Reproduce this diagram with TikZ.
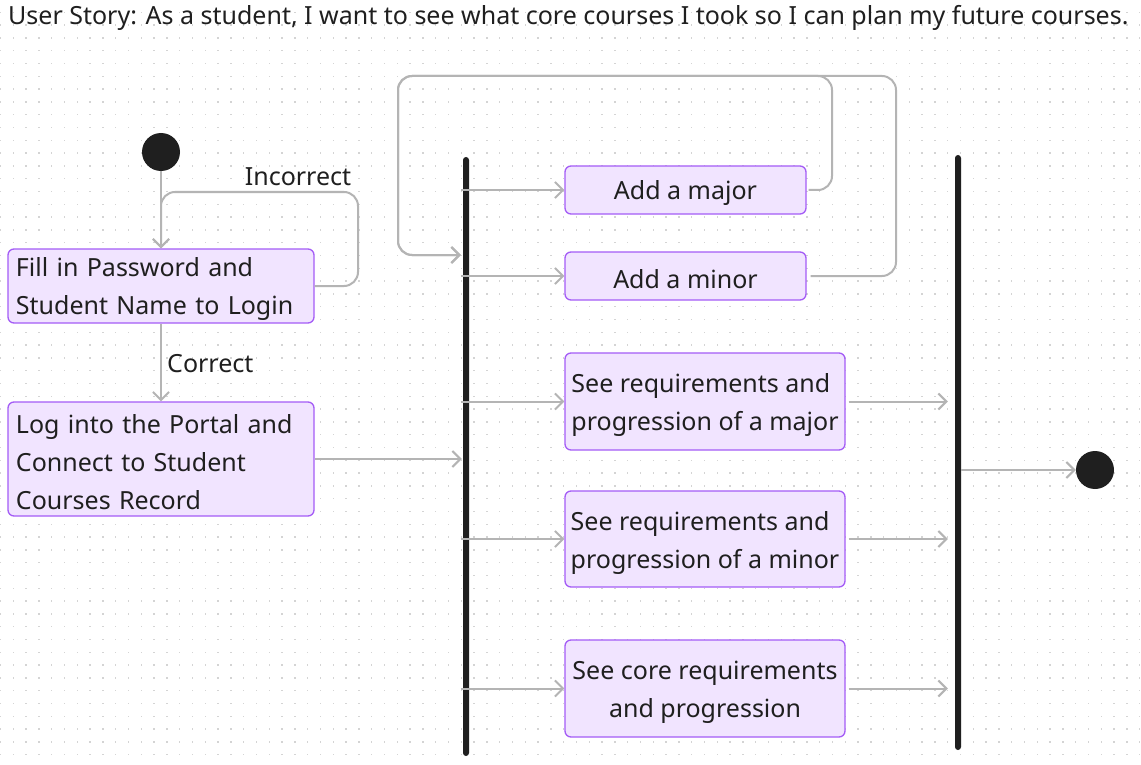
\documentclass[tikz,border=0pt]{standalone}
\usepackage{fontspec}
\setmainfont{Noto Sans}
\usetikzlibrary{arrows.meta,calc}
\definecolor{boxfill}{RGB}{241,228,255}
\definecolor{boxline}{RGB}{164,92,246}
\definecolor{conncol}{RGB}{180,180,180}
\definecolor{inkc}{RGB}{31,31,31}
\definecolor{dotc}{RGB}{212,212,212}
\tikzset{
  txt/.style={font=\fontsize{25}{38}\selectfont, text=inkc},
  actbox/.style={draw=boxline, fill=boxfill, line width=1.3pt, rounded corners=6pt,
     txt, inner sep=0pt, text height=24.5pt},
  actleft/.style={actbox, align=left},
  actcent/.style={actbox, align=center},
  acttwo/.style={text height=64pt},
  conn/.style={draw=conncol, line width=2pt,
     -{Straight Barb[length=8pt,width=16pt,line width=2pt]}},
  dotnode/.style={circle, fill=inkc, minimum size=38pt, inner sep=0pt},
  barnode/.style={rectangle, fill=inkc, rounded corners=3pt, minimum width=6pt, inner sep=0pt},
  lbl/.style={txt, inner sep=0pt}
}
\begin{document}
\begin{tikzpicture}[x=1pt,y=-1pt]
\useasboundingbox (0,0) rectangle (1141,765);
\fill[white] (0,0) rectangle (1141,765);
\foreach \i in {0,...,89}{\foreach \j in {1,...,60}{
  \fill[dotc] ({0.5+12.8*\i-0.7},{-0.5+12.8*\j-0.7}) rectangle ++(1.4,1.4);}}

\node[lbl, anchor=west] (title) at (8,18) {User Story: As a student, I want to see what core courses I took so I can plan my future courses.};

\node[dotnode] (start) at (161,152) {};
\node[actleft, minimum width=306pt, minimum height=74pt, text width=290pt] (fill) at (161,286)
  {Fill in Password and\\Student Name to Login};
\node[actleft, minimum width=306pt, minimum height=114pt, text width=290pt] (log) at (161,459)
  {Log into the Portal and\\Connect to Student\\Courses Record};

\node[barnode, minimum height=599pt] (bar1) at (466,456.5) {};
\node[barnode, minimum height=595pt] (bar2) at (958,452.5) {};

\node[actcent, minimum width=241pt, minimum height=48pt] (major) at (685.5,190) {Add a major};
\node[actcent, minimum width=241pt, minimum height=48pt] (minor) at (685.5,276) {Add a minor};
\node[actleft, acttwo, minimum width=280pt, minimum height=97pt] (smaj) at (705,401.5)
  {See requirements and\\progression of a major};
\node[actleft, acttwo, minimum width=280pt, minimum height=96pt] (smin) at (705,539)
  {See requirements and\\progression of a minor};
\node[actcent, acttwo, minimum width=280pt, minimum height=97pt] (score) at (705,688.5)
  {See core requirements\\and progression};

\node[dotnode] (endc) at (1095,470) {};

\coordinate (incR) at (358,192);
\coordinate (majR) at (832,76);
\coordinate (minR) at (896,76);
\coordinate (loopL) at (398,255);

% start and login
\draw[conn] (start) -- (fill.north);
\draw[conn, rounded corners=14pt] (fill.east) -| (incR) -| (fill.north);
\node[lbl] (inclbl) at (298,177) {Incorrect};
\draw[conn] (fill.south) -- (log.north);
\node[lbl, anchor=west] (corlbl) at (167,364) {Correct};
\draw[conn] (log.east) -- ([xshift=-1pt]log.east -| bar1.west);

% fork
\draw[conn] ([xshift=-2pt]bar1.west |- major.west) -- (major.west);
\draw[conn] ([xshift=-2pt]bar1.west |- minor.west) -- (minor.west);
\draw[conn] ([xshift=-2pt]bar1.west |- smaj.west) -- (smaj.west);
\draw[conn] ([xshift=-2pt]bar1.west |- smin.west) -- (smin.west);
\draw[conn] ([xshift=-2pt]bar1.west |- score.west) -- (score.west);

% loops
\draw[conn, rounded corners=14pt] ([xshift=2pt]major.east) -| (majR) -| (loopL) -- ([xshift=-2pt]loopL -| bar1.west);
\draw[conn, rounded corners=14pt] ([xshift=4pt]minor.east) -| (minR) -| (loopL) -- ([xshift=-2pt]loopL -| bar1.west);

% join
\draw[conn] ([xshift=3pt]smaj.east) -- ([xshift=-7pt]smaj.east -| bar2.west);
\draw[conn] ([xshift=3pt]smin.east) -- ([xshift=-7pt]smin.east -| bar2.west);
\draw[conn] ([xshift=3pt]score.east) -- ([xshift=-7pt]score.east -| bar2.west);
\draw[conn] (bar2.east |- endc) -- (endc.west);
\end{tikzpicture}
\end{document}
